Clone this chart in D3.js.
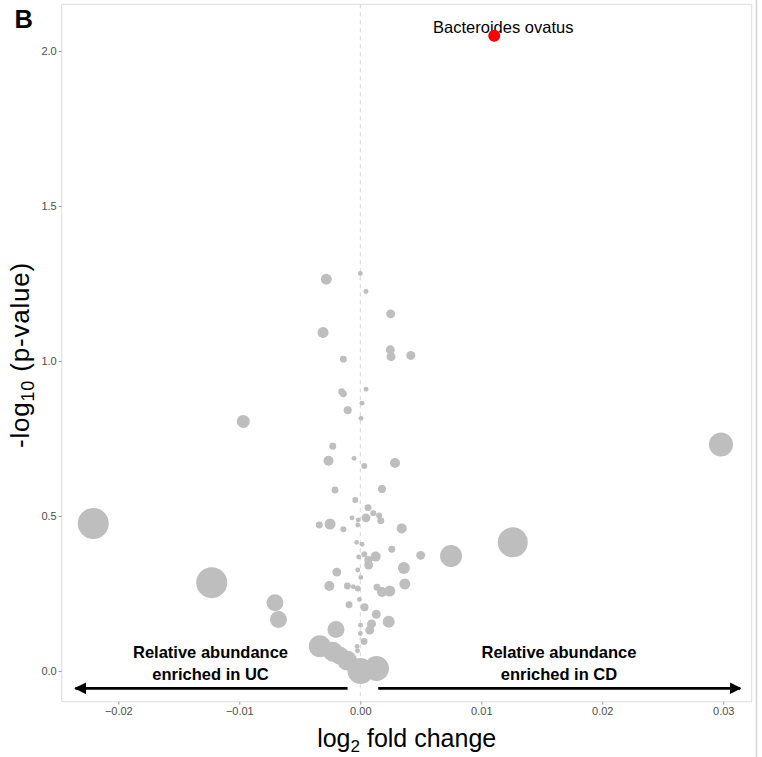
<!DOCTYPE html>
<html>
<head>
<meta charset="utf-8">
<script src="https://cdn.jsdelivr.net/npm/d3@7"></script>
<style>
  body { margin: 0; background: #fff; }
  svg { display: block; font-family: "Liberation Sans", Arial, Helvetica, sans-serif; }
</style>
</head>
<body>
<svg id="chart" width="762" height="757"></svg>
<script>
// log2 fold change (CD vs UC), -log10 p-value and mean abundance per species
const logFC = [
  -0.00281, 0.00000, 0.00047, 0.00251, -0.00308, 0.00248, 0.00254, 0.00417, -0.00140, 0.00047,
  -0.00154, -0.00140, 0.00014, -0.00104, 0.00006, -0.00228, -0.00967, -0.00263, -0.00052, 0.00033,
  0.00287, -0.00209, 0.00179, -0.00041, 0.00064, 0.00107, 0.00155, 0.00047, 0.00169, -0.00069,
  -0.00017, -0.00021, -0.00250, -0.00339, -0.00140, 0.00342, -0.00030, 0.00014, 0.00260, 0.00499,
  0.00127, 0.00033, -0.00013, 0.00066, 0.00069, 0.00360, -0.00194, -0.00021, 0.00004, 0.00368,
  -0.00256, -0.00107, -0.00058, -0.00021, 0.00138, 0.00179, 0.00244, -0.00007, -0.00093, 0.00035,
  0.00132, 0.00235, 0.00002, 0.00093, 0.00078, 0.00000, 0.00031, -0.00027, -0.00023, -0.00335,
  -0.00201, -0.00226, -0.00110, 0.00002, 0.00134, -0.00705, -0.00676, -0.01228, -0.02207, 0.00750,
  0.01260, 0.02981, -0.00170, 0.01107
];
const negLog10P = [
  1.264, 1.282, 1.224, 1.152, 1.092, 1.036, 1.014, 1.018, 1.006, 0.909,
  0.901, 0.894, 0.864, 0.841, 0.815, 0.725, 0.805, 0.678, 0.686, 0.661,
  0.671, 0.584, 0.587, 0.552, 0.527, 0.509, 0.502, 0.494, 0.485, 0.494,
  0.487, 0.471, 0.474, 0.471, 0.457, 0.460, 0.415, 0.409, 0.393, 0.373,
  0.369, 0.377, 0.368, 0.358, 0.342, 0.332, 0.319, 0.326, 0.302, 0.281,
  0.274, 0.274, 0.272, 0.266, 0.270, 0.255, 0.258, 0.231, 0.214, 0.206,
  0.183, 0.159, 0.148, 0.152, 0.132, 0.121, 0.095, 0.079, 0.065, 0.080,
  0.134, 0.062, 0.034, 0.000, 0.008, 0.220, 0.166, 0.285, 0.476, 0.371,
  0.415, 0.731, 0.050, 2.049
];
const abundance = [
  30, 6, 6, 20, 30, 20, 20, 20, 12, 6,
  12, 12, 6, 16, 6, 12, 42, 25, 6, 9,
  25, 12, 16, 9, 12, 9, 9, 20, 12, 6,
  6, 6, 30, 12, 9, 25, 6, 6, 12, 20,
  25, 9, 6, 16, 20, 36, 20, 6, 6, 30,
  25, 12, 6, 9, 12, 25, 30, 6, 12, 16,
  20, 36, 6, 20, 20, 6, 12, 6, 6, 121,
  72, 100, 100, 169, 156, 72, 72, 240, 240, 121,
  225, 144, 81, 36
];
// only the significant species is named
const highlighted = ["Bacteroides ovatus"];
const highlightIndex = [83];

const xTicks = [-0.02, -0.01, 0.00, 0.01, 0.02, 0.03];
const xTickLabels = ["\u22120.02", "\u22120.01", "0.00", "0.01", "0.02", "0.03"];
const yTicks = [0.0, 0.5, 1.0, 1.5, 2.0];
const yTickLabels = ["0.0", "0.5", "1.0", "1.5", "2.0"];

const points = logFC.map((x, i) => ({
  x, y: negLog10P[i], size: abundance[i],
  label: highlightIndex.includes(i) ? highlighted[highlightIndex.indexOf(i)] : null
}));

const W = 762, H = 757;
const margin = { top: 4.3, right: W - 751.7, bottom: H - 701.7, left: 61.7 };

const svg = d3.select('#chart');

const x = d3.scaleLinear().domain([-0.02468, 0.03235]).range([margin.left, W - margin.right]);
const y = d3.scaleLinear().domain([-0.099, 2.1506]).range([H - margin.bottom, margin.top]);
const r = d3.scaleSqrt().domain([0, 240]).range([0, 15.5]);

// stray page edge on the right
svg.append('line')
  .attr('x1', 756.5).attr('x2', 756.5).attr('y1', 0).attr('y2', H)
  .attr('stroke', '#d4d4d4').attr('stroke-width', 1.5);

// panel border
svg.append('rect')
  .attr('x', x.range()[0]).attr('y', y.range()[1])
  .attr('width', x.range()[1] - x.range()[0])
  .attr('height', y.range()[0] - y.range()[1])
  .attr('fill', 'none').attr('stroke', '#dcdcdc').attr('stroke-width', 1);

// dashed line at zero fold change
svg.append('line')
  .attr('x1', x(0)).attr('x2', x(0))
  .attr('y1', y.range()[1]).attr('y2', y.range()[0])
  .attr('stroke', '#d6d6d6').attr('stroke-width', 1).attr('stroke-dasharray', '4,4');

// axes
const xAxis = svg.append('g')
  .attr('transform', `translate(0, ${y.range()[0]})`)
  .call(d3.axisBottom(x).tickValues(xTicks).tickSize(3).tickPadding(3)
    .tickFormat((d, i) => xTickLabels[i]));
const yAxis = svg.append('g')
  .attr('transform', `translate(${x.range()[0]}, 0)`)
  .call(d3.axisLeft(y).tickValues(yTicks).tickSize(3).tickPadding(2)
    .tickFormat((d, i) => yTickLabels[i]));
[xAxis, yAxis].forEach((g) => {
  g.select('.domain').remove();
  g.selectAll('.tick line').attr('stroke', '#999');
  g.selectAll('.tick text')
    .attr('fill', '#4d4d4d')
    .style('font-size', '11px')
    .style('font-family', '"Liberation Sans", Arial, sans-serif');
});

// highlighted label (drawn under its point)
svg.append('g').selectAll('text')
  .data(points.filter((d) => d.label))
  .join('text')
  .attr('x', (d) => x(d.x) + 9)
  .attr('y', (d) => y(d.y) - 2.5)
  .attr('text-anchor', 'middle')
  .attr('fill', '#000')
  .style('font-size', '16.5px')
  .text((d) => d.label);

// points, biggest first so small ones stay visible
svg.append('g').selectAll('circle')
  .data(points.slice().sort((a, b) => b.size - a.size))
  .join('circle')
  .attr('cx', (d) => x(d.x))
  .attr('cy', (d) => y(d.y))
  .attr('r', (d) => r(d.size))
  .attr('fill', (d) => (d.label ? '#ff0000' : '#bebebe'));

// direction annotations
const defs = svg.append('defs');
defs.append('marker')
  .attr('id', 'head').attr('viewBox', '0 0 10 10')
  .attr('refX', 9).attr('refY', 5)
  .attr('markerWidth', 4.4).attr('markerHeight', 4.4)
  .attr('orient', 'auto-start-reverse').attr('markerUnits', 'strokeWidth')
  .append('path').attr('d', 'M0,0 L10,5 L0,10 Z').attr('fill', '#000');

const arrowY = -0.0558;
const arrows = [
  { from: -0.00105, to: -0.02355 },
  { from: 0.00148, to: 0.03140 },
];
svg.append('g').selectAll('line')
  .data(arrows)
  .join('line')
  .attr('x1', (d) => x(d.from)).attr('x2', (d) => x(d.to))
  .attr('y1', y(arrowY)).attr('y2', y(arrowY))
  .attr('stroke', '#000').attr('stroke-width', 2.7)
  .attr('marker-end', 'url(#head)');

const notes = [
  { x: -0.01238, lines: ['Relative abundance', 'enriched in UC'] },
  { x: 0.01642, lines: ['Relative abundance', 'enriched in CD'] },
];
notes.forEach((n) => {
  const t = svg.append('text')
    .attr('x', x(n.x)).attr('y', 658)
    .attr('text-anchor', 'middle')
    .style('font-size', '16.5px').style('font-weight', 'bold');
  n.lines.forEach((line, i) => {
    t.append('tspan').attr('x', x(n.x)).attr('dy', i === 0 ? 0 : 22).text(line);
  });
});

// axis titles
const xt = svg.append('text')
  .attr('x', (x.range()[0] + x.range()[1]) / 2).attr('y', 747)
  .attr('text-anchor', 'middle').style('font-size', '25px');
xt.append('tspan').text('log');
xt.append('tspan').attr('dy', 5).style('font-size', '17px').text('2');
xt.append('tspan').attr('dy', -5).text(' fold change');

const yt = svg.append('text')
  .attr('transform', `translate(29, 355) rotate(-90)`)
  .attr('text-anchor', 'middle').style('font-size', '26px')
  .style('letter-spacing', '0.8px');
yt.append('tspan').text('-log');
yt.append('tspan').attr('dy', 5).style('font-size', '18px').text('10');
yt.append('tspan').attr('dy', -5).text(' (p-value)');

// panel tag
svg.append('text')
  .attr('x', 14.5).attr('y', 27.7)
  .style('font-size', '25.5px').style('font-weight', 'bold')
  .text('B');
</script>
</body>
</html>
